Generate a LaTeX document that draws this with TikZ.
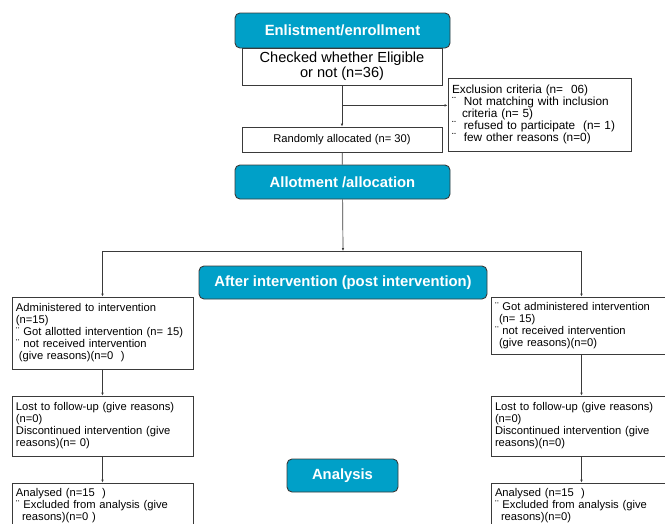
\documentclass[tikz,border=0pt]{standalone}
\usepackage{fontspec}
\setmainfont{Liberation Sans}
\usepackage{xcolor}
\definecolor{HeadBlue}{HTML}{00A0C8}
\definecolor{Edge}{HTML}{3A3A3A}
\usepackage{tikz}
\usetikzlibrary{arrows.meta,positioning}

\begin{document}
\begin{tikzpicture}[x=1pt,y=-1pt,
  headbox/.style={draw=Edge,fill=HeadBlue,rounded corners=5pt,text=white,line width=0.9pt,font=\bfseries\fontsize{14.8}{16}\selectfont},
  infobox/.style={draw=Edge,fill=white,line width=0.8pt,align=left,inner xsep=4pt,inner ysep=2pt,font=\fontsize{11.2}{12}\selectfont},
  arrow/.style={-{Latex[length=3pt,width=2.6pt]},draw=Edge,line width=0.7pt}
]
  \useasboundingbox (0,0) rectangle (665,523);
  \clip (0,0) rectangle (665,523);

  % enrollment
  \node[headbox,minimum width=215pt,minimum height=35pt] (enlist) at (342.5,30.5) {Enlistment/enrollment};
  \node[infobox,align=center,minimum width=200pt,minimum height=37pt,font=\fontsize{14.6}{15}\selectfont] (check) at (342,66.5) {Checked whether Eligible\\or not (n=36)};
  \node[infobox,text width=175pt,minimum height=73pt,font=\fontsize{11.8}{10.9}\selectfont] (excl) at (539.5,114.5) {Exclusion criteria (n=~~06)\\¨~~Not matching with inclusion\\\hspace*{10pt}criteria (n= 5)\\¨~~refused to participate~ (n= 1)\\¨~~few other reasons (n=0)};
  \node[infobox,align=center,minimum width=200pt,minimum height=25pt] (rand) at (342,139.5) {Randomly allocated (n= 30)};

  % allocation
  \node[headbox,minimum width=215pt,minimum height=34pt] (allot) at (342.5,182) {Allotment /allocation};
  \node[headbox,minimum width=288pt,minimum height=33pt] (after) at (343,282.5) {After intervention (post intervention)};
  \coordinate (split) at (343,251);

  % left arm
  \node[infobox,text width=173pt,minimum height=72pt] (left1) at (102.5,333) {Administered to intervention\\(n=15)\\¨ Got allotted intervention (n=~15)\\¨ not received intervention\\\hspace*{3pt}(give reasons)(n=0~~)};
  \node[infobox,text width=173pt,minimum height=60pt] (left2) at (102.5,426) {Lost to follow-up (give reasons)\\(n=0)\\Discontinued intervention (give\\reasons)(n= 0)};
  \node[infobox,text width=173pt,minimum height=46pt] (left3) at (102.5,506) {Analysed (n=15~~)\\¨ Excluded from analysis (give\\\hspace*{6pt}reasons)(n=0~)};

  % right arm
  \node[infobox,text width=173pt,minimum height=57pt] (right1) at (581.5,325.5) {¨ Got administered intervention\\\hspace*{4pt}(n= 15)\\¨ not received intervention\\\hspace*{4pt}(give reasons)(n=0)};
  \node[infobox,text width=173pt,minimum height=60pt] (right2) at (581.5,426) {Lost to follow-up (give reasons)\\(n=0)\\Discontinued intervention (give\\reasons)(n=0)};
  \node[infobox,text width=173pt,minimum height=46pt] (right3) at (581.5,506) {Analysed (n=15~~)\\¨ Excluded from analysis (give\\\hspace*{6pt}reasons)(n=0)};

  \node[headbox,minimum width=111pt,minimum height=33pt] (analysis) at (342.5,475.5) {Analysis};

  % connectors
  \draw[arrow] (check) -- (rand);
  \draw[arrow] ([yshift=-20pt]check.south) coordinate (branch) -- (branch -| excl.west);
  \draw[draw=Edge,line width=0.7pt] (rand) -- (allot);
  \draw[arrow] (allot) -- (split);
  \draw[arrow] (split) -| (left1.north);
  \draw[arrow] (split) -| (right1.north);
  \draw[arrow] (left1) -- (left2);
  \draw[arrow] (left2) -- (left3);
  \draw[arrow] (right1) -- (right2);
  \draw[arrow] (right2) -- (right3);
\end{tikzpicture}
\end{document}
